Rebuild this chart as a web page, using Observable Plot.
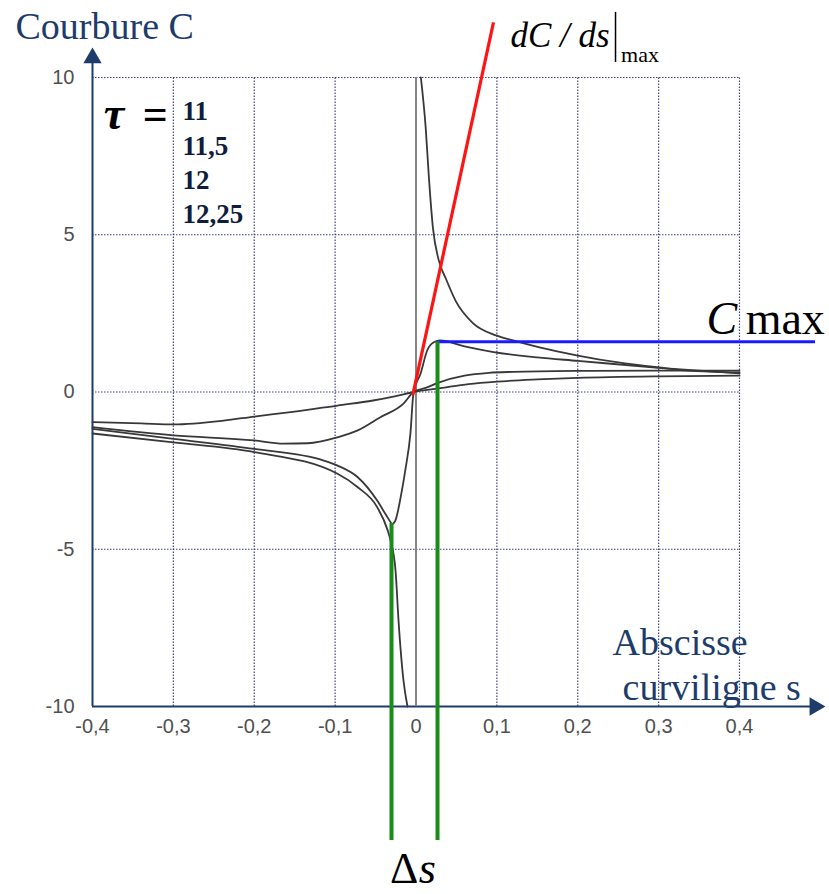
<!DOCTYPE html>
<html>
<head>
<meta charset="utf-8">
<script src="https://cdn.jsdelivr.net/npm/d3@7"></script>
<script src="https://cdn.jsdelivr.net/npm/@observablehq/plot@0.6"></script>
<style>
  html, body { margin: 0; padding: 0; background: #fff; }
  #chart { width: 829px; height: 894px; }
</style>
</head>
<body>
<div id="chart"></div>
<script>
// ---- data ----
const tauValues = [11, 11.5, 12, 12.25];
const tauLabels = ["11", "11,5", "12", "12,25"];

const s_tau11 = [-0.4,-0.34,-0.3,-0.238,-0.2,-0.155,-0.097,-0.053,-0.025,-0.003,0.03,0.065,0.1,0.15,0.2,0.3,0.4];
const C_tau11 = [-0.96,-1.0,-1.03,-0.91,-0.78,-0.64,-0.43,-0.27,-0.13,0,0.12,0.25,0.33,0.4,0.45,0.5,0.52];

const s_tau115 = [-0.4,-0.3,-0.2,-0.164,-0.134,-0.097,-0.072,-0.044,-0.0155,-0.003,0.012,0.028,0.06,0.09,0.12,0.2,0.3,0.4];
const C_tau115 = [-1.12,-1.38,-1.54,-1.64,-1.63,-1.44,-1.22,-0.8,-0.37,0,0.13,0.3,0.52,0.61,0.64,0.67,0.68,0.68];

const s_tau12 = [-0.4,-0.3,-0.2,-0.114,-0.097,-0.072,-0.048,-0.036,-0.029,-0.025,-0.019,-0.013,-0.007,-0.003,0.0056,0.0138,0.022,0.03,0.06,0.096,0.15,0.2,0.3,0.4];
const C_tau12 = [-1.17,-1.49,-1.81,-2.18,-2.34,-2.71,-3.45,-3.95,-4.19,-4.05,-3.35,-2.45,-1.35,0,0.58,1.32,1.58,1.64,1.45,1.27,1.1,0.99,0.77,0.59];

// tau = 12.25 : two branches either side of the singularity
const s_tau1225_left = [-0.4,-0.3,-0.2,-0.097,-0.072,-0.048,-0.035,-0.0315,-0.0253,-0.0216,-0.0155,-0.0105];
const C_tau1225_left = [-1.32,-1.6,-1.91,-2.6,-3.03,-3.66,-4.4,-4.72,-5.68,-7.27,-9.17,-10];
const s_tau1225_right = [0.006,0.012,0.016,0.021,0.028,0.037,0.049,0.07,0.099,0.12,0.154,0.2,0.25,0.3,0.336,0.4];
const C_tau1225_right = [10,8.4,6.8,5.2,4.2,3.6,2.9,2.2,1.8,1.64,1.41,1.16,0.94,0.78,0.68,0.62];

const xTicks = [-0.4,-0.3,-0.2,-0.1,0,0.1,0.2,0.3,0.4];
const yTicks = [-10,-5,0,5,10];

const Cmax = [1.6];
const deltaS = [-0.0303, 0.0266];       // s of the two extrema
const deltaC = [-4.18, 1.6];            // C at the two extrema
const tangent = [{s1: -0.004, c1: -0.1, s2: 0.0958, c2: 11.75}];

// ---- build table ----
const series = [
  {key: "11", s: s_tau11, c: C_tau11},
  {key: "11.5", s: s_tau115, c: C_tau115},
  {key: "12", s: s_tau12, c: C_tau12},
  {key: "12.25a", s: s_tau1225_left, c: C_tau1225_left},
  {key: "12.25b", s: s_tau1225_right, c: C_tau1225_right}
];
const rows = series.flatMap(d => d.s.map((s, i) => ({key: d.key, s, c: d.c[i]})));

const navy = "#1d3c6c";
const serif = "'Liberation Serif', 'Times New Roman', serif";
const sans = "'Liberation Sans', Arial, sans-serif";
const fmt = d => String(+d.toFixed(1)).replace(".", ",");
const gridStyle = {stroke: "#2e2e80", strokeWidth: 1.2, strokeDasharray: "1.5,1.5", strokeOpacity: 0.9};

const chart = Plot.plot({
  width: 829,
  height: 894,
  marginLeft: 92,
  marginRight: 90,
  marginTop: 77,
  marginBottom: 188,
  x: {domain: [-0.4, 0.4], axis: null},
  y: {domain: [-10, 10], axis: null},
  style: {background: "#fff", color: "#555", fontFamily: sans, fontSize: "18px", overflow: "visible"},
  marks: [
    // dotted grid
    Plot.ruleX(xTicks.slice(1), {y1: -10, y2: 10, ...gridStyle}),
    Plot.ruleY(yTicks.slice(1), {x1: -0.4, x2: 0.4, ...gridStyle}),
    // axes with arrows
    Plot.ruleX([-0.4], {y1: -10, y2: 10.62, stroke: navy, strokeWidth: 2}),
    Plot.ruleY([-10], {x1: -0.4, x2: 0.4932, stroke: navy, strokeWidth: 2}),
    Plot.dot([{x: -0.4, y: 10.62, a: 0}, {x: 0.4932, y: -10, a: 90}], {x: "x", y: "y", rotate: "a", symbol: "triangle", r: 6.8, fill: navy, stroke: "none"}),
    // tick labels
    Plot.text(xTicks, {x: d => d, y: -10, text: fmt, dy: 12, lineAnchor: "top", textAnchor: "middle", fontFamily: sans, fontSize: 20, fill: "#505050"}),
    Plot.text(yTicks, {x: -0.4, y: d => d, text: d => String(d), dx: -18, lineAnchor: "middle", textAnchor: "end", fontFamily: sans, fontSize: 20, fill: "#505050"}),
    // vertical singular line at s = 0
    Plot.ruleX([0], {y1: -10, y2: 10, stroke: "#858585", strokeWidth: 2}),
    // curves
    Plot.line(rows, {x: "s", y: "c", z: "key", stroke: "#383838", strokeWidth: 1.8, curve: "monotone-x"}),
    // tangent (red)
    Plot.link(tangent, {x1: "s1", y1: "c1", x2: "s2", y2: "c2", stroke: "#ff1414", strokeWidth: 3.2}),
    // Cmax (blue)
    Plot.ruleY(Cmax, {x1: deltaS[1], x2: 0.494, stroke: "#1a1aff", strokeWidth: 3}),
    // Delta s (green)
    Plot.ruleX(deltaS, {x: d => d, y1: (d, i) => deltaC[i], y2: -14.26, stroke: "#1a8c1a", strokeWidth: 4}),
    // texts
    Plot.text(["Courbure C"], {x: -0.4952, y: 11.24, text: d => d, textAnchor: "start", lineAnchor: "bottom", fontFamily: serif, fontSize: 38, fill: navy}),
    Plot.text(["τ"], {x: -0.386, y: 8.36, text: d => d, textAnchor: "start", lineAnchor: "bottom", fontFamily: serif, fontSize: 46, fontWeight: "bold", fontStyle: "italic", fill: "#000"}),
    Plot.text(["="], {x: -0.338, y: 8.36, text: d => d, textAnchor: "start", lineAnchor: "bottom", fontFamily: serif, fontSize: 44, fontWeight: "bold", fill: "#000"}),
    Plot.text(tauLabels, {x: -0.2887, y: (d, i) => 8.633 - i * 1.085, text: d => d, textAnchor: "start", lineAnchor: "bottom", fontFamily: serif, fontSize: 27, fontWeight: "bold", fill: "#0f1d3d"}),
    Plot.text(["dC / ds"], {x: 0.1168, y: 10.97, text: d => d, textAnchor: "start", lineAnchor: "bottom", fontFamily: serif, fontSize: 35, fontStyle: "italic", fill: "#000"}),
    Plot.ruleX([0.2467], {y1: 12.07, y2: 10.48, stroke: "#000", strokeWidth: 1.5}),
    Plot.text(["max"], {x: 0.2535, y: 10.48, text: d => d, textAnchor: "start", lineAnchor: "bottom", fontFamily: serif, fontSize: 22, fill: "#000"}),
    Plot.text(["C"], {x: 0.3592, y: 1.86, text: d => d, textAnchor: "start", lineAnchor: "bottom", fontFamily: serif, fontSize: 46, fontStyle: "italic", fill: "#000"}),
    Plot.text(["max"], {x: 0.4076, y: 1.86, text: d => d, textAnchor: "start", lineAnchor: "bottom", fontFamily: serif, fontSize: 46, fill: "#000"}),
    Plot.text(["Abscisse"], {x: 0.2431, y: -8.378, text: d => d, textAnchor: "start", lineAnchor: "bottom", fontFamily: serif, fontSize: 38, fill: navy}),
    Plot.text(["curviligne s"], {x: 0.2554, y: -9.809, text: d => d, textAnchor: "start", lineAnchor: "bottom", fontFamily: serif, fontSize: 38, fill: navy}),
    Plot.text(["Δ"], {x: -0.0321, y: -15.62, text: d => d, textAnchor: "start", lineAnchor: "bottom", fontFamily: serif, fontSize: 44, fill: "#000"}),
    Plot.text(["s"], {x: 0.0035, y: -15.62, text: d => d, textAnchor: "start", lineAnchor: "bottom", fontFamily: serif, fontSize: 44, fontStyle: "italic", fill: "#000"})
  ]
});
document.getElementById("chart").appendChild(chart);
</script>
</body>
</html>
